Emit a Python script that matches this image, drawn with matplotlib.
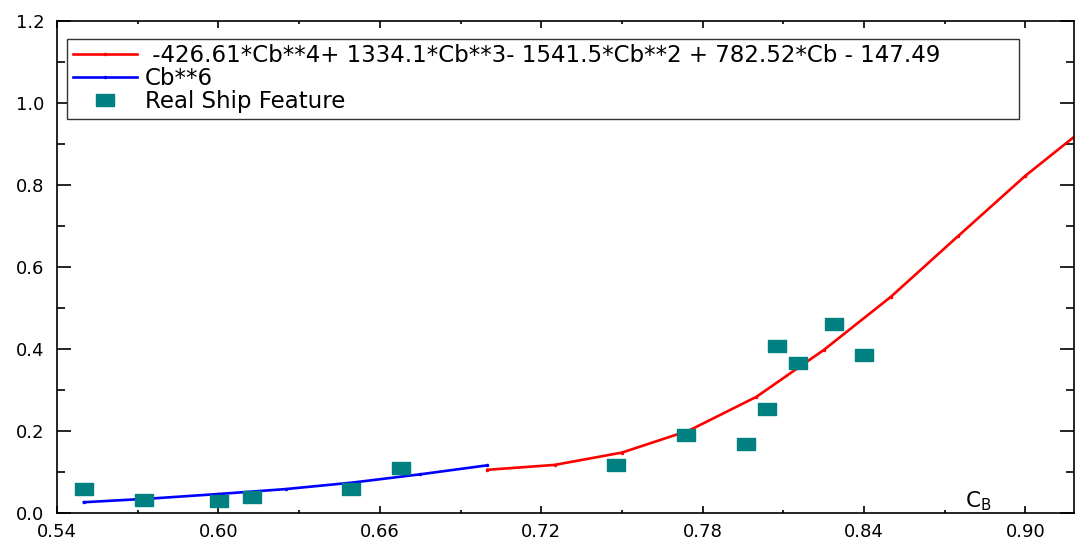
import numpy as np
import matplotlib.pyplot as plt
from matplotlib.ticker import MultipleLocator, FormatStrFormatter


# fitted polynomial curve (red)
fit_cb = [0.700, 0.725, 0.750, 0.775, 0.800, 0.825, 0.850, 0.875, 0.900, 0.925]
fit_val = [0.106, 0.118, 0.148, 0.202, 0.284, 0.398, 0.528, 0.676, 0.823, 0.954]

# Cb**6 curve (blue)
pow_cb = [0.550, 0.575, 0.600, 0.625, 0.650, 0.675, 0.700]
pow_val = [0.027, 0.036, 0.047, 0.059, 0.075, 0.095, 0.117]

# real ship feature points
ship_cb = [0.5499, 0.5722, 0.6001, 0.6125, 0.6492, 0.6677, 0.7479, 0.7739,
           0.7962, 0.8040, 0.8078, 0.8156, 0.8287, 0.8401]
ship_val = [0.059, 0.033, 0.031, 0.040, 0.060, 0.110, 0.118, 0.190,
            0.168, 0.254, 0.409, 0.367, 0.462, 0.387]

FIT_LABEL = ' -426.61*Cb**4+ 1334.1*Cb**3- 1541.5*Cb**2 + 782.52*Cb - 147.49'
POW_LABEL = 'Cb**6'
SHIP_LABEL = 'Real Ship Feature'
TEAL = '#008080'
# ------------------------------------------------------------------------


def main():
    fig = plt.figure(figsize=(10.75, 5.43), dpi=100)
    ax = fig.add_axes([0.053, 0.0547, 0.946, 0.9066])

    ax.plot(fit_cb, fit_val, color='#ff0000', lw=1.9, marker='o', ms=1.5,
            label=FIT_LABEL)
    ax.plot(pow_cb, pow_val, color='#0000ff', lw=1.9, marker='o', ms=1.5,
            label=POW_LABEL)

    # squares look a bit wider than tall in the reference
    rect = [(-1, -0.7), (1, -0.7), (1, 0.7), (-1, 0.7), (-1, -0.7)]
    ax.plot(ship_cb, ship_val, ls='none', marker=rect, ms=12.5,
            color=TEAL, mec=TEAL, label=SHIP_LABEL)

    ax.set_xlim(0.54, 0.918)
    ax.set_ylim(0, 1.2)

    ax.xaxis.set_major_locator(MultipleLocator(0.06))
    ax.xaxis.set_minor_locator(MultipleLocator(0.03))
    ax.xaxis.set_major_formatter(FormatStrFormatter('%.2f'))
    ax.yaxis.set_major_locator(MultipleLocator(0.2))
    ax.yaxis.set_minor_locator(MultipleLocator(0.1))
    ax.yaxis.set_major_formatter(FormatStrFormatter('%.1f'))

    ax.tick_params(which='both', direction='in', top=True, right=True,
                   width=1.2, labelsize=13)
    ax.tick_params(axis='x', which='major', length=5, pad=7)
    ax.tick_params(axis='x', which='minor', length=2.5)
    ax.tick_params(axis='y', which='major', length=10, pad=9)
    ax.tick_params(axis='y', which='minor', length=6)
    for spine in ax.spines.values():
        spine.set_linewidth(1.2)

    ax.set_xlabel(r'C$_\mathrm{B}$', fontsize=15.5, ha='left', va='bottom')
    ax.xaxis.set_label_coords(0.893, 0.0)

    # box stretched to the reference width
    leg = ax.legend(loc='upper left', mode='expand',
                    bbox_to_anchor=(0.0097, 0.964, 0.936, 0.0),
                    borderaxespad=0, fontsize=16.5, fancybox=False,
                    edgecolor='#333333', framealpha=1, handlelength=2.8,
                    handletextpad=0.35, labelspacing=0.0, borderpad=0.25)
    leg.get_frame().set_linewidth(1.0)

    fig.savefig('out.png', dpi=100)


if __name__ == "__main__":
    main()
